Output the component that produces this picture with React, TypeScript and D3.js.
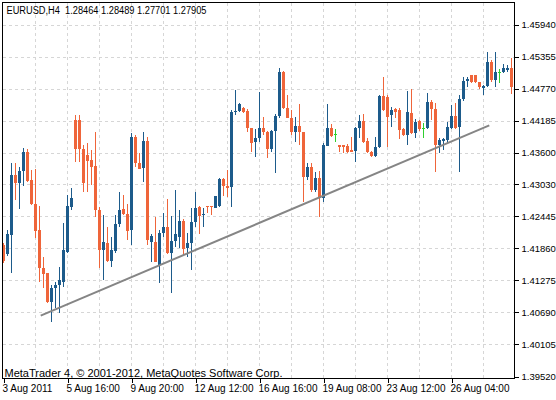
import React, { useEffect, useRef } from 'react';
import * as d3 from 'd3';

// EURUSD H4 bars, oldest first
const opens = [
  1.4191, 1.4174, 1.4211, 1.4320, 1.4305, 1.4327, 1.4362, 1.4311, 1.4267, 1.4220,
  1.4150, 1.4141, 1.4088, 1.4114, 1.4119, 1.4125, 1.4180, 1.4261, 1.4420, 1.4420,
  1.4367, 1.4356, 1.4347, 1.4336, 1.4256, 1.4183, 1.4196, 1.4163, 1.4181, 1.4230,
  1.4258, 1.4249, 1.4220, 1.4389, 1.4342, 1.4333, 1.4382, 1.4198, 1.4198, 1.4156,
  1.4214, 1.4225, 1.4178, 1.4198, 1.4207, 1.4236, 1.4187, 1.4196, 1.4234, 1.4261,
  1.4247, 1.4263, 1.4263, 1.4261, 1.4263, 1.4312, 1.4300, 1.4298, 1.4435, 1.4437,
  1.4442, 1.4437, 1.4406, 1.4380, 1.4387, 1.4406, 1.4398, 1.4367, 1.4400, 1.4428,
  1.4508, 1.4442, 1.4424, 1.4398, 1.4409, 1.4398, 1.4316, 1.4335, 1.4293, 1.4314,
  1.4278, 1.4374, 1.4406, 1.4395, 1.4374, 1.4374, 1.4373, 1.4366, 1.4364, 1.4406,
  1.4418, 1.4382, 1.4362, 1.4355, 1.4371, 1.4464, 1.4462, 1.4428, 1.4440, 1.4438,
  1.4404, 1.4393, 1.4433, 1.4396, 1.4418, 1.4406, 1.4406, 1.4453, 1.4440, 1.4374,
  1.4382, 1.4384, 1.4406, 1.4428, 1.4407, 1.4458, 1.4491, 1.4501, 1.4501, 1.4489,
  1.4479, 1.4482, 1.4526, 1.4493, 1.4508, 1.4508, 1.4511, 1.4515,
];
const highs = [
  1.4196, 1.4220, 1.4342, 1.4342, 1.4335, 1.4369, 1.4367, 1.4329, 1.4331, 1.4263,
  1.4170, 1.4141, 1.4119, 1.4125, 1.4152, 1.4232, 1.4283, 1.4296, 1.4429, 1.4429,
  1.4374, 1.4378, 1.4366, 1.4398, 1.4261, 1.4247, 1.4225, 1.4207, 1.4247, 1.4288,
  1.4283, 1.4267, 1.4396, 1.4393, 1.4360, 1.4398, 1.4389, 1.4212, 1.4242, 1.4220,
  1.4250, 1.4276, 1.4244, 1.4293, 1.4256, 1.4240, 1.4214, 1.4260, 1.4288, 1.4263,
  1.4260, 1.4263, 1.4263, 1.4282, 1.4314, 1.4314, 1.4329, 1.4438, 1.4475, 1.4451,
  1.4444, 1.4440, 1.4406, 1.4404, 1.4471, 1.4426, 1.4400, 1.4402, 1.4431, 1.4515,
  1.4510, 1.4466, 1.4438, 1.4426, 1.4449, 1.4398, 1.4342, 1.4342, 1.4325, 1.4327,
  1.4378, 1.4449, 1.4413, 1.4404, 1.4374, 1.4374, 1.4376, 1.4389, 1.4407, 1.4429,
  1.4431, 1.4387, 1.4364, 1.4389, 1.4466, 1.4499, 1.4466, 1.4444, 1.4442, 1.4442,
  1.4406, 1.4473, 1.4477, 1.4422, 1.4420, 1.4415, 1.4469, 1.4457, 1.4451, 1.4387,
  1.4387, 1.4416, 1.4448, 1.4451, 1.4466, 1.4499, 1.4499, 1.4501, 1.4501, 1.4489,
  1.4484, 1.4544, 1.4530, 1.4544, 1.4513, 1.4522, 1.4520, 1.4533,
];
const lows = [
  1.4159, 1.4172, 1.4141, 1.4274, 1.4258, 1.4300, 1.4307, 1.4265, 1.4205, 1.4125,
  1.4114, 1.4086, 1.4052, 1.4077, 1.4068, 1.4116, 1.4178, 1.4256, 1.4344, 1.4344,
  1.4288, 1.4288, 1.4302, 1.4242, 1.4150, 1.4128, 1.4161, 1.4152, 1.4178, 1.4225,
  1.4247, 1.4201, 1.4192, 1.4335, 1.4331, 1.4307, 1.4192, 1.4161, 1.4161, 1.4123,
  1.4207, 1.4176, 1.4105, 1.4189, 1.4187, 1.4174, 1.4170, 1.4147, 1.4225, 1.4211,
  1.4225, 1.4250, 1.4247, 1.4260, 1.4261, 1.4282, 1.4280, 1.4261, 1.4429, 1.4435,
  1.4433, 1.4398, 1.4362, 1.4353, 1.4380, 1.4393, 1.4351, 1.4362, 1.4324, 1.4424,
  1.4440, 1.4423, 1.4393, 1.4380, 1.4374, 1.4271, 1.4311, 1.4289, 1.4289, 1.4243,
  1.4271, 1.4373, 1.4389, 1.4380, 1.4362, 1.4360, 1.4360, 1.4361, 1.4344, 1.4387,
  1.4378, 1.4360, 1.4353, 1.4353, 1.4369, 1.4437, 1.4371, 1.4407, 1.4424, 1.4385,
  1.4391, 1.4374, 1.4395, 1.4387, 1.4400, 1.4387, 1.4404, 1.4420, 1.4325, 1.4360,
  1.4366, 1.4378, 1.4404, 1.4404, 1.4325, 1.4455, 1.4480, 1.4487, 1.4487, 1.4477,
  1.4466, 1.4480, 1.4489, 1.4480, 1.4488, 1.4506, 1.4508, 1.4468,
];
const closes = [
  1.4161, 1.4211, 1.4320, 1.4305, 1.4327, 1.4362, 1.4309, 1.4267, 1.4218, 1.4150,
  1.4139, 1.4088, 1.4114, 1.4119, 1.4128, 1.4183, 1.4263, 1.4278, 1.4368, 1.4367,
  1.4305, 1.4345, 1.4335, 1.4256, 1.4183, 1.4198, 1.4163, 1.4183, 1.4230, 1.4256,
  1.4249, 1.4218, 1.4389, 1.4342, 1.4331, 1.4382, 1.4201, 1.4209, 1.4161, 1.4214,
  1.4225, 1.4178, 1.4200, 1.4211, 1.4236, 1.4185, 1.4196, 1.4234, 1.4260, 1.4244,
  1.4249, 1.4261, 1.4261, 1.4282, 1.4312, 1.4300, 1.4296, 1.4435, 1.4437, 1.4449,
  1.4435, 1.4406, 1.4378, 1.4387, 1.4406, 1.4398, 1.4367, 1.4400, 1.4428, 1.4508,
  1.4442, 1.4424, 1.4398, 1.4409, 1.4398, 1.4316, 1.4335, 1.4293, 1.4314, 1.4278,
  1.4374, 1.4406, 1.4391, 1.4395, 1.4371, 1.4371, 1.4362, 1.4362, 1.4406, 1.4418,
  1.4380, 1.4362, 1.4355, 1.4371, 1.4464, 1.4438, 1.4426, 1.4438, 1.4435, 1.4402,
  1.4393, 1.4435, 1.4396, 1.4416, 1.4404, 1.4406, 1.4453, 1.4440, 1.4374, 1.4384,
  1.4386, 1.4407, 1.4428, 1.4406, 1.4458, 1.4491, 1.4495, 1.4488, 1.4488, 1.4479,
  1.4482, 1.4526, 1.4493, 1.4508, 1.4508, 1.4515, 1.4515, 1.4480,
];

// price scale labels on the right
const priceTicks = [
  1.45940, 1.45355, 1.44770, 1.44185, 1.43600, 1.43030,
  1.42445, 1.41860, 1.41275, 1.40690, 1.40105, 1.39520,
];

// time labels: bar index and text
const timeTickBars = [0, 16, 32, 48, 64, 80, 96, 112];
const timeTickLabels = [
  '3 Aug 2011', '5 Aug 16:00', '9 Aug 20:00', '12 Aug 12:00',
  '16 Aug 16:00', '19 Aug 08:00', '23 Aug 12:00', '26 Aug 04:00',
];

// trend line anchors: [bar, price]
const trendStart = [9.3, 1.4063];
const trendEnd = [121.45, 1.4410];

const headerText = 'EURUSD,H4  1.28464 1.28489 1.27701 1.27905';
const copyrightText = 'MetaTrader 4, \u00a9 2001-2012, MetaQuotes Software Corp.';

const BULL = '#1d5b8b';
const BEAR = '#ef653a';
const DOJI = '#2fcf2f';
const FONT = '"Liberation Sans", Arial, sans-serif';

const W = 556;
const H = 400;
const plot = { left: 2.5, top: 2.5, right: 514.5, bottom: 378.5 };

const CandleChart: React.FC = () => {
  const svgRef = useRef<SVGSVGElement>(null);

  useEffect(() => {
    if (!svgRef.current) return;
    const svg = d3.select(svgRef.current);
    svg.selectAll('*').remove();

    const x = d3.scaleLinear().domain([0, opens.length - 1]).range([3.5, 511.5]);
    const y = d3
      .scaleLinear()
      .domain([priceTicks[priceTicks.length - 1], priceTicks[0]])
      .range([376.5, 24.5]);

    svg.append('rect').attr('width', W).attr('height', H).attr('fill', '#fff');

    // grid
    const grid = svg.append('g')
      .attr('stroke', '#d6d6d6')
      .attr('stroke-dasharray', '3,3')
      .attr('shape-rendering', 'crispEdges');
    priceTicks.slice(0, -1).forEach(p => {
      grid.append('line')
        .attr('x1', plot.left).attr('x2', plot.right)
        .attr('y1', Math.round(y(p)) + 0.5).attr('y2', Math.round(y(p)) + 0.5);
    });
    d3.range(8, opens.length, 8).forEach(b => {
      grid.append('line')
        .attr('x1', Math.floor(x(b)) + 0.5).attr('x2', Math.floor(x(b)) + 0.5)
        .attr('y1', plot.top).attr('y2', plot.bottom);
    });

    // candles
    const idx = d3.range(opens.length);
    const colorOf = (i: number) =>
      opens[i] === closes[i] ? DOJI : closes[i] > opens[i] ? BULL : BEAR;

    const candles = svg.append('g').attr('shape-rendering', 'crispEdges');
    candles.selectAll('line.wick')
      .data(idx)
      .enter()
      .append('line')
      .attr('class', 'wick')
      .attr('x1', i => Math.floor(x(i)) + 0.5)
      .attr('x2', i => Math.floor(x(i)) + 0.5)
      .attr('y1', i => y(highs[i]))
      .attr('y2', i => y(lows[i]))
      .attr('stroke', colorOf)
      .attr('stroke-width', 1);

    candles.selectAll('rect.body')
      .data(idx)
      .enter()
      .append('rect')
      .attr('class', 'body')
      .attr('x', i => Math.floor(x(i)) - 1)
      .attr('width', 3)
      .attr('y', i => Math.round(y(Math.max(opens[i], closes[i]))))
      .attr('height', i => Math.max(1, Math.round(Math.abs(y(opens[i]) - y(closes[i])))))
      .attr('fill', colorOf);

    // trend line
    svg.append('line')
      .attr('x1', x(trendStart[0])).attr('y1', y(trendStart[1]))
      .attr('x2', x(trendEnd[0])).attr('y2', y(trendEnd[1]))
      .attr('stroke', '#858585')
      .attr('stroke-width', 2);

    // frame
    svg.append('rect')
      .attr('x', plot.left).attr('y', plot.top)
      .attr('width', plot.right - plot.left)
      .attr('height', plot.bottom - plot.top)
      .attr('fill', 'none')
      .attr('stroke', '#000')
      .attr('shape-rendering', 'crispEdges');

    // price axis
    const yAxis = d3.axisRight(y)
      .tickValues(priceTicks)
      .tickFormat(d3.format('.5f'))
      .tickSize(4)
      .tickPadding(3)
      .tickSizeOuter(0);
    const yg = svg.append('g')
      .attr('transform', `translate(${plot.right},0)`)
      .call(yAxis);
    yg.select('.domain').remove();
    yg.selectAll('.tick line').attr('stroke', '#000').attr('shape-rendering', 'crispEdges');
    yg.selectAll('.tick text')
      .attr('fill', '#000')
      .style('font-family', FONT)
      .style('font-size', '9.5px');

    // time axis
    const xAxis = d3.axisBottom(x)
      .tickValues(timeTickBars)
      .tickFormat((_d, i) => timeTickLabels[i])
      .tickSize(4)
      .tickSizeOuter(0);
    const xg = svg.append('g')
      .attr('transform', `translate(0,${plot.bottom})`)
      .call(xAxis);
    xg.select('.domain').remove();
    xg.selectAll('.tick line').attr('stroke', '#000').attr('shape-rendering', 'crispEdges');
    xg.selectAll('.tick text')
      .attr('fill', '#000')
      .attr('text-anchor', 'start')
      .attr('x', -1.5)
      .attr('y', 13)
      .attr('dy', 0)
      .style('font-family', FONT)
      .style('font-size', '10px');

    // header and copyright
    svg.append('text')
      .attr('x', 6.5).attr('y', 14)
      .attr('textLength', 200)
      .attr('lengthAdjust', 'spacingAndGlyphs')
      .style('font-family', FONT)
      .style('font-size', '10px')
      .style('white-space', 'pre')
      .attr('fill', '#000')
      .text(headerText);

    svg.append('text')
      .attr('x', 4.5).attr('y', 377)
      .attr('textLength', 278)
      .attr('lengthAdjust', 'spacingAndGlyphs')
      .style('font-family', FONT)
      .style('font-size', '10.5px')
      .attr('fill', '#000')
      .text(copyrightText);
  }, []);

  return (
    <svg
      ref={svgRef}
      width={W}
      height={H}
      style={{ position: 'absolute', left: 0, top: 0, display: 'block' }}
    />
  );
};

export default function App() {
  return <CandleChart />;
}
